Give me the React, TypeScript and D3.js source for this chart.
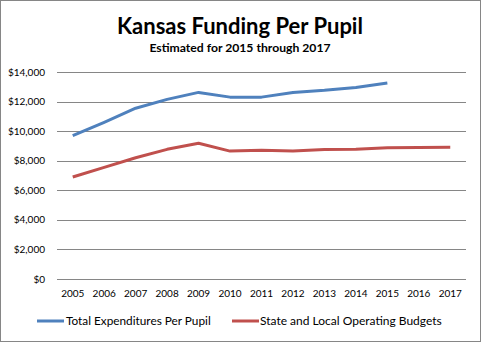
import React from "react";
import * as d3 from "d3";

const years = ["2005","2006","2007","2008","2009","2010","2011","2012","2013","2014","2015","2016","2017"];
const totalExp: (number | null)[] = [9700, 10600, 11550, 12150, 12620, 12300, 12300, 12620, 12760, 12950, 13250, null, null];
const stateLocal: (number | null)[] = [6900, 7550, 8200, 8770, 9180, 8650, 8700, 8650, 8760, 8780, 8880, 8900, 8910];
const yTicks = [0, 2000, 4000, 6000, 8000, 10000, 12000, 14000];
const seriesNames = ["Total Expenditures Per Pupil", "State and Local Operating Budgets"];
const colors = ["#4F81BD", "#C0504D"];

export default function App() {
  const W = 481, H = 342;
  const font = "Lato, 'Open Sans', sans-serif";
  const x = d3.scaleBand<string>().domain(years).range([57, 466]);
  const y = d3.scaleLinear().domain([0, 14000]).range([279, 72]);
  const line = d3.line<number | null>()
    .defined(d => d !== null)
    .x((_, i) => x(years[i])! + x.bandwidth() / 2)
    .y(d => y(d as number));
  const fmt = (v: number) => "$" + d3.format(",")(v);
  return (
    <svg width={W} height={H} style={{ position: "absolute", left: 0, top: 0 }}>
      <rect x={0.5} y={0.5} width={W - 1} height={H - 1} fill="#fff" stroke="#868686" />
      <text x={240} y={34} textAnchor="middle" fontFamily={font} fontWeight="bold" fontSize={22}>Kansas Funding Per Pupil</text>
      <text x={240} y={52} textAnchor="middle" fontFamily={font} fontWeight="bold" fontSize={12.2}>Estimated for 2015 through 2017</text>
      {yTicks.map(t => (
        <g key={t}>
          <line x1={57} x2={466} y1={Math.round(y(t)) + 0.5} y2={Math.round(y(t)) + 0.5} stroke="#868686" />
          <text x={45} y={y(t) + 3.5} textAnchor="end" fontFamily={font} fontSize={10}>{fmt(t)}</text>
        </g>
      ))}
      {years.map(yr => (
        <text key={yr} x={x(yr)! + x.bandwidth() / 2} y={297} textAnchor="middle" fontFamily={font} fontSize={10}>{yr}</text>
      ))}
      <path d={line(totalExp)!} fill="none" stroke={colors[0]} strokeWidth={3} strokeLinejoin="round" />
      <path d={line(stateLocal)!} fill="none" stroke={colors[1]} strokeWidth={3} strokeLinejoin="round" />
      <line x1={37} x2={64} y1={321} y2={321} stroke={colors[0]} strokeWidth={3} />
      <text x={66} y={325} fontFamily={font} fontSize={11.8}>{seriesNames[0]}</text>
      <line x1={232} x2={259} y1={321} y2={321} stroke={colors[1]} strokeWidth={3} />
      <text x={260} y={325} fontFamily={font} fontSize={12}>{seriesNames[1]}</text>
    </svg>
  );
}
